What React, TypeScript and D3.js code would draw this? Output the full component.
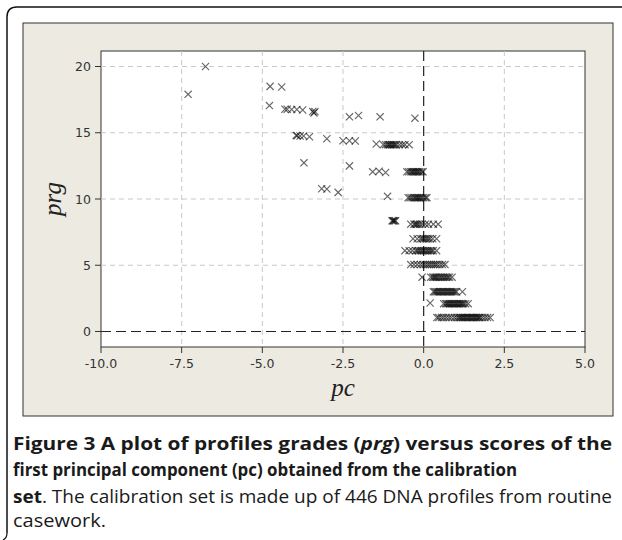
import React from 'react';
import * as d3 from 'd3';

const xTicks = [-10, -7.5, -5, -2.5, 0, 2.5, 5];
const yTicks = [0, 5, 10, 15, 20];

// scattered points (pc, prg)
const scatteredPoints: [number, number][] = [
  [-7.3, 17.9], [-6.76, 20.0],
  [-4.76, 18.5], [-4.4, 18.45], [-4.78, 17.05],
  [-4.3, 16.77], [-4.23, 16.77], [-4.09, 16.75], [-3.93, 16.75], [-3.75, 16.72],
  [-3.44, 16.6], [-3.4, 16.5], [-3.37, 16.6],
  [-3.95, 14.8], [-3.92, 14.78], [-3.83, 14.75], [-3.72, 14.75], [-3.54, 14.7],
  [-3.0, 14.55], [-2.5, 14.4], [-2.3, 14.4], [-2.12, 14.38],
  [-2.3, 16.2], [-2.02, 16.3], [-1.35, 16.2], [-0.27, 16.1],
  [-1.47, 14.15], [-3.71, 12.73], [-2.3, 12.5],
  [-3.16, 10.77], [-3.0, 10.75], [-2.65, 10.5],
  [-1.58, 12.05], [-1.38, 12.1], [-1.18, 12.0], [-1.12, 10.2],
  [-0.05, 4.1], [0.2, 2.15],
];

const rowPrg = [14.1, 12.05, 10.1, 8.35, 8.1, 7.0, 6.1, 5.05, 4.1, 3.0, 2.1, 1.05];
const row14Pc = [-1.25, -1.18, -1.12, -1.08, -1.04, -1.0, -0.96, -0.92, -0.88, -0.84, -0.75, -0.66, -0.58, -0.45];
const row12Pc = [-0.52, -0.46, -0.4, -0.36, -0.32, -0.28, -0.24, -0.2, -0.16, -0.12, -0.06, -0.02];
const row10Pc = [-0.48, -0.42, -0.36, -0.3, -0.26, -0.22, -0.18, -0.14, -0.1, -0.05, 0.0, 0.06, 0.1];
const row8hPc = [-0.98, -0.95, -0.93, -0.9, -0.87];
const row8Pc = [-0.4, -0.3, -0.26, -0.22, -0.18, -0.12, -0.05, 0.05, 0.15, 0.3, 0.45];
const row7Pc = [-0.33, -0.2, -0.1, -0.05, 0.0, 0.05, 0.1, 0.15, 0.2, 0.28, 0.4];
const row6Pc = [-0.58, -0.45, -0.35, -0.25, -0.2, -0.15, -0.1, -0.05, 0.0, 0.05, 0.1, 0.15, 0.2, 0.25, 0.3, 0.4];
const row5Pc = [-0.4, -0.3, -0.2, -0.1, -0.02, 0.05, 0.12, 0.18, 0.24, 0.3, 0.36, 0.42, 0.5, 0.58, 0.66];
const row4Pc = [0.22, 0.28, 0.32, 0.36, 0.4, 0.45, 0.5, 0.55, 0.6, 0.65, 0.7, 0.75, 0.8, 0.88];
const row3Pc = [0.3, 0.34, 0.38, 0.42, 0.46, 0.5, 0.54, 0.58, 0.62, 0.66, 0.7, 0.74, 0.78, 0.82, 0.86, 0.9, 0.94, 0.98, 1.02, 1.2];
const row2Pc = [0.62, 0.68, 0.72, 0.76, 0.8, 0.84, 0.88, 0.92, 0.96, 1.0, 1.04, 1.08, 1.12, 1.16, 1.2, 1.24, 1.3, 1.38];
const row1Pc = [0.41, 0.47, 0.55, 0.62, 0.7, 0.78, 0.86, 0.95, 1.02, 1.08, 1.12, 1.16, 1.2, 1.24, 1.28, 1.32, 1.36, 1.4, 1.44, 1.48, 1.52, 1.56, 1.6, 1.64, 1.68, 1.72, 1.75, 1.82, 1.9, 1.98, 2.06];
const rowPcs = [row14Pc, row12Pc, row10Pc, row8hPc, row8Pc, row7Pc, row6Pc, row5Pc, row4Pc, row3Pc, row2Pc, row1Pc];

const captionLines = [
  'Figure 3 A plot of profiles grades (',
  'prg',
  ') versus scores of the',
  'first principal component (pc) obtained from the calibration',
  'set',
  '. The calibration set is made up of 446 DNA profiles from routine',
  'casework.',
];

export default function App() {
  const x = d3.scaleLinear().domain([-10, 5]).range([101, 585]);
  const y = d3.scaleLinear().domain([-1.17, 21.17]).range([347, 51]);
  const [x0, x1] = x.range();
  const [yb, yt] = y.range();

  const points: [number, number][] = [...scatteredPoints];
  rowPcs.forEach((arr, i) => arr.forEach((v) => points.push([v, rowPrg[i]])));

  const m = 3.6;
  const markPath = points
    .map(([a, b]) => {
      const px = x(a), py = y(b);
      return `M${px - m},${py - m}L${px + m},${py + m}M${px - m},${py + m}L${px + m},${py - m}`;
    })
    .join('');

  const axisFont = '"DejaVu Sans", sans-serif';
  const capFont = '"Open Sans", "Noto Sans", sans-serif';

  return (
    <svg width={622} height={540} style={{ position: 'absolute', left: 0, top: 0 }}>
      <rect x={0} y={0} width={622} height={540} fill="#fff" />
      <path d="M7,533 L7,17 Q7,7 17,7 L622,7" fill="none" stroke="#111" strokeWidth={1.5} />
      <path d="M7,533 Q7,538 3,540" fill="none" stroke="#111" strokeWidth={1.2} />
      <rect x={23} y={23} width={590} height={393} fill="#EDEAE1" stroke="#333" strokeWidth={1} />
      <rect x={x0} y={yt} width={x1 - x0} height={yb - yt} fill="#fff" stroke="#333" strokeWidth={1} />
      {xTicks.filter((t) => t !== 0 && t !== -10 && t !== 5).map((t) => (
        <line key={'gx' + t} x1={x(t)} x2={x(t)} y1={yt} y2={yb} stroke="#c8c8c8" strokeDasharray="5,4" />
      ))}
      {yTicks.filter((t) => t !== 0).map((t) => (
        <line key={'gy' + t} x1={x0} x2={x1} y1={y(t)} y2={y(t)} stroke="#c8c8c8" strokeDasharray="5,4" />
      ))}
      <line x1={x(0)} x2={x(0)} y1={yt} y2={yb} stroke="#222" strokeWidth={1.2} strokeDasharray="10,5" />
      <line x1={x0} x2={x1} y1={y(0)} y2={y(0)} stroke="#222" strokeWidth={1.2} strokeDasharray="10,5" />
      <g fill="none" stroke="#000" strokeWidth={1.15} strokeOpacity={0.6}>
        {points.map(([a, b], i) => {
          const px = x(a), py = y(b);
          return (
            <path key={i} d={`M${px - m},${py - m}L${px + m},${py + m}M${px - m},${py + m}L${px + m},${py - m}`} />
          );
        })}
      </g>
      {xTicks.map((t) => (
        <g key={'tx' + t}>
          <line x1={x(t)} x2={x(t)} y1={yb} y2={yb + 6} stroke="#333" />
          <text x={x(t)} y={yb + 21} textAnchor="middle" fontFamily={axisFont} fontSize={12.5} fill="#333">
            {t.toFixed(1)}
          </text>
        </g>
      ))}
      {yTicks.map((t) => (
        <g key={'ty' + t}>
          <line x1={x0 - 6} x2={x0} y1={y(t)} y2={y(t)} stroke="#333" />
          <text x={x0 - 10} y={y(t) + 4.5} textAnchor="end" fontFamily={axisFont} fontSize={12.5} fill="#333">
            {t}
          </text>
        </g>
      ))}
      <text x={(x0 + x1) / 2} y={396} textAnchor="middle" fontFamily='"Liberation Serif", serif' fontStyle="italic" fontSize={25} fill="#222">
        pc
      </text>
      <text transform={`translate(61,${(yt + yb) / 2}) rotate(-90)`} textAnchor="middle" fontFamily='"Liberation Serif", serif' fontStyle="italic" fontSize={25} fill="#222">
        prg
      </text>
      <g fontFamily={capFont} fontSize={18} fill="#1a1a1a">
        <text x={13} y={450} textLength={599} lengthAdjust="spacingAndGlyphs" fontWeight="bold">
          {captionLines[0]}<tspan fontStyle="italic">{captionLines[1]}</tspan>{captionLines[2]}
        </text>
        <text x={13} y={476} textLength={504} lengthAdjust="spacingAndGlyphs" fontWeight="bold">
          {captionLines[3]}
        </text>
        <text x={13} y={503} textLength={599} lengthAdjust="spacingAndGlyphs">
          <tspan fontWeight="bold">{captionLines[4]}</tspan>{captionLines[5]}
        </text>
        <text x={13} y={527} textLength={93} lengthAdjust="spacingAndGlyphs">
          {captionLines[6]}
        </text>
      </g>
    </svg>
  );
}
